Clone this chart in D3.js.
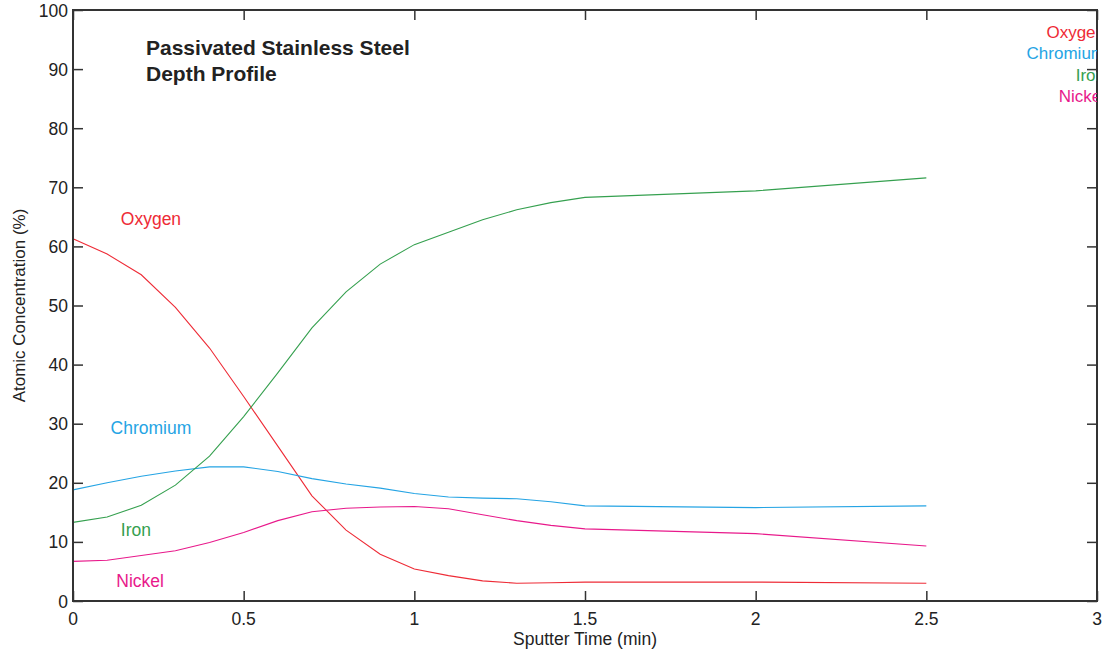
<!DOCTYPE html>
<html><head><meta charset="utf-8">
<script src="https://cdn.jsdelivr.net/npm/d3@7"></script>
<style>body{margin:0;background:#fff}svg{display:block;font-family:"Liberation Sans",Arial,sans-serif}</style>
</head><body><svg id="c" width="1106" height="652"></svg>
<script>
const times = [0,0.1,0.2,0.3,0.4,0.5,0.6,0.7,0.8,0.9,1.0,1.1,1.2,1.3,1.4,1.5,2.0,2.5];
const oxygen   = [61.3,58.7,55.2,49.7,42.8,34.6,26.2,17.8,12.0,7.9,5.4,4.3,3.4,3.0,3.1,3.2,3.2,3.0];
const chromium = [18.8,20.0,21.1,22.0,22.7,22.7,21.9,20.7,19.8,19.1,18.2,17.6,17.4,17.3,16.8,16.1,15.8,16.1];
const iron     = [13.3,14.2,16.2,19.6,24.5,31.2,38.6,46.2,52.3,57.0,60.3,62.4,64.5,66.2,67.4,68.3,69.4,71.6];
const nickel   = [6.7,6.9,7.7,8.5,9.9,11.6,13.6,15.1,15.7,15.9,16.0,15.6,14.6,13.6,12.8,12.2,11.4,9.3];
const seriesNames = ["Oxygen","Chromium","Iron","Nickel"];
const seriesColors = ["#ee2b36","#25a4e4","#35a04f","#e8198b"];
const xTicks = [0,0.5,1,1.5,2,2.5,3];
const yTicks = [0,10,20,30,40,50,60,70,80,90,100];
const titleLines = ["Passivated Stainless Steel","Depth Profile"];

const svg = d3.select("#c");
const L=73,R=1097,T=10,B=601;
const x = d3.scaleLinear().domain([0,3]).range([L,R]);
const y = d3.scaleLinear().domain([0,100]).range([B,T]);
const data=[oxygen,chromium,iron,nickel];

svg.append("defs").append("clipPath").attr("id","clip").append("rect")
  .attr("x",L).attr("y",T).attr("width",R-L).attr("height",B-T);

const line=d3.line().x((d,i)=>x(times[i])).y(d=>y(d));
data.forEach((s,k)=>{
  svg.append("path").attr("d",line(s)).attr("fill","none")
    .attr("stroke",seriesColors[k]).attr("stroke-width",1.1);
});

const axCol="#333";
const fmt=d=>String(d);
const gB=svg.append("g").attr("transform",`translate(0,${B})`).call(d3.axisTop(x).tickValues(xTicks).tickSize(10).tickFormat(""));
const gT=svg.append("g").attr("transform",`translate(0,${T})`).call(d3.axisBottom(x).tickValues(xTicks).tickSize(10).tickFormat(""));
const gL=svg.append("g").attr("transform",`translate(${L},0)`).call(d3.axisRight(y).tickValues(yTicks).tickSize(10).tickFormat(""));
const gR=svg.append("g").attr("transform",`translate(${R},0)`).call(d3.axisLeft(y).tickValues(yTicks).tickSize(10).tickFormat(""));
[gB,gT,gL,gR].forEach(g=>{g.select(".domain").remove();g.selectAll("line").attr("stroke",axCol).attr("stroke-width",1.5);});
svg.append("rect").attr("x",L).attr("y",T).attr("width",R-L).attr("height",B-T)
  .attr("fill","none").attr("stroke",axCol).attr("stroke-width",2);

svg.append("g").selectAll("text").data(xTicks).join("text")
  .attr("x",d=>x(d)).attr("y",B+24).attr("text-anchor","middle")
  .attr("font-size",17.5).attr("fill","#222").text(fmt);
svg.append("g").selectAll("text").data(yTicks).join("text")
  .attr("x",L-5).attr("y",d=>y(d)+6.5).attr("text-anchor","end")
  .attr("font-size",17.5).attr("fill","#222").text(fmt);

svg.append("text").attr("x",(L+R)/2).attr("y",645).attr("text-anchor","middle")
  .attr("font-size",17.5).attr("fill","#222").text("Sputter Time (min)");
svg.append("text").attr("transform",`translate(25,${(T+B)/2}) rotate(-90)`).attr("text-anchor","middle")
  .attr("font-size",17).attr("fill","#222").text("Atomic Concentration (%)");

svg.append("g").selectAll("text").data(titleLines).join("text")
  .attr("x",146).attr("y",(d,i)=>55+i*25.5).attr("font-size",21).attr("font-weight","bold")
  .attr("fill","#222").text(d=>d);

const inl=[[0.14,64.6],[0.11,29.3],[0.14,12.0],[0.127,3.4]];
svg.append("g").selectAll("text").data(seriesNames).join("text")
  .attr("x",(d,i)=>x(inl[i][0])).attr("y",(d,i)=>y(inl[i][1])).attr("dy","0.35em")
  .attr("font-size",17.5).attr("fill",(d,i)=>seriesColors[i]).text(d=>d);

svg.append("g").attr("clip-path","url(#clip)").selectAll("text").data(seriesNames).join("text")
  .attr("x",R+8).attr("y",(d,i)=>32+i*21.3).attr("dy","0.35em")
  .attr("text-anchor","end").attr("font-size",17).attr("fill",(d,i)=>seriesColors[i]).text(d=>d);
</script></body></html>
